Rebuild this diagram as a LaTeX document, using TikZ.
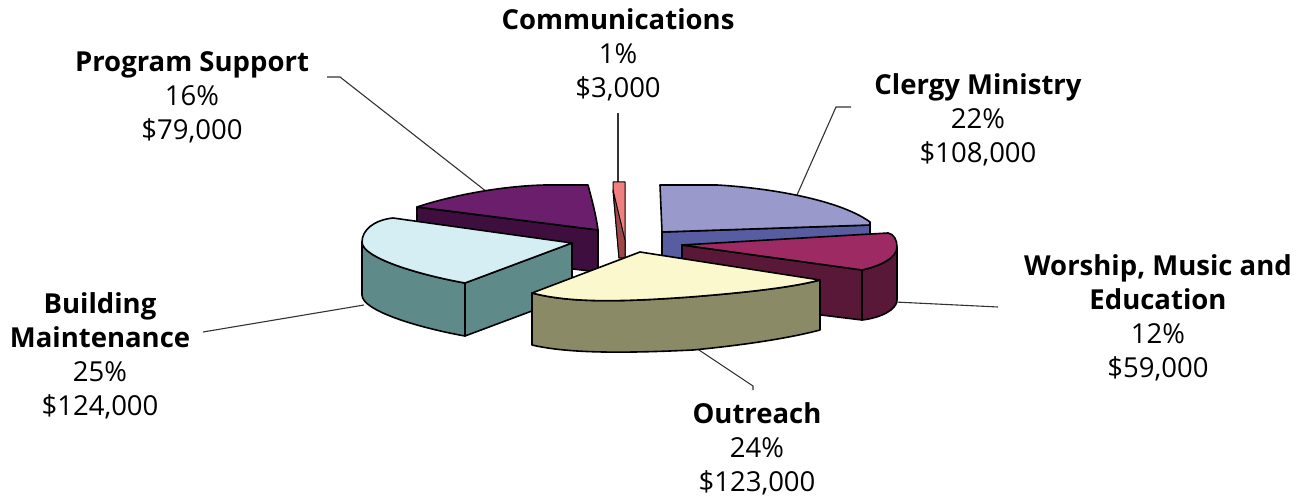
\documentclass[tikz,border=0pt]{standalone}
\usepackage{fontspec}
\setmainfont{Open Sans}
\definecolor{psTop}{RGB}{107,30,107}
\definecolor{psSide}{RGB}{62,14,62}
\definecolor{bmTop}{RGB}{212,238,244}
\definecolor{bmSide}{RGB}{95,138,138}
\definecolor{orTop}{RGB}{250,248,204}
\definecolor{orSide}{RGB}{138,138,102}
\definecolor{cmTop}{RGB}{153,153,204}
\definecolor{cmSide}{RGB}{88,92,160}
\definecolor{wmTop}{RGB}{158,42,100}
\definecolor{wmSide}{RGB}{90,24,56}
\definecolor{coTop}{RGB}{240,128,128}
\definecolor{coSide}{RGB}{160,72,72}
\begin{document}
\begin{tikzpicture}[x=1pt,y=-1pt,
  lbl/.style={align=center,font=\fontsize{27.5}{34}\selectfont,text=black,inner sep=0pt},
  lead/.style={draw=black!80,line width=1.1pt},
  rim/.style={draw=black,line width=1.6pt,line join=round}]
\useasboundingbox[fill=white] (0,0) rectangle (1302,497);

% labels
\node[lbl] (co) at (618,55) {\textbf{Communications}\\1\%\\\$3,000};
\node[lbl] (ps) at (192,97) {\textbf{Program Support}\\16\%\\\$79,000};
\node[lbl] (cm) at (978,120) {\textbf{Clergy Ministry}\\22\%\\\$108,000};
\node[lbl] (wm) at (1158,318) {\textbf{Worship, Music and}\\\textbf{Education}\\12\%\\\$59,000};
\node[lbl] (or) at (757,449) {\textbf{Outreach}\\24\%\\\$123,000};
\node[lbl] (bm) at (100,356) {\textbf{Building}\\\textbf{Maintenance}\\25\%\\\$124,000};

% leader line points
\coordinate (psA) at (327,77);
\coordinate (psB) at (340,77);
\coordinate (psC) at (487,192);
\coordinate (coA) at (618,113);
\coordinate (coB) at (618,184);
\coordinate (cmA) at (851,107);
\coordinate (cmB) at (836,107);
\coordinate (cmC) at (797,195);
\coordinate (wmA) at (998,307);
\coordinate (wmB) at (895,302);
\coordinate (orA) at (753,390);
\coordinate (orB) at (753,386);
\coordinate (orC) at (696,348);
\coordinate (bmA) at (203,332);
\coordinate (bmB) at (364,305);

\draw[lead] (psA) -- (psB) -- (psC);
\draw[lead] (coA) -- (coB);
\draw[lead] (cmA) -- (cmB) -- (cmC);
\draw[lead] (wmA) -- (wmB);
\draw[lead] (orA) -- (orB) -- (orC);
\draw[lead] (bmA) -- (bmB);

% Program Support
\filldraw[rim,fill=psSide] (417,207) -- (598,230) -- (598,272) -- (417,250) -- cycle;
\filldraw[rim,fill=psTop] (417,207) .. controls (450,196) and (500,186) .. (545,185) -- (588,185)
   .. controls (592,200) and (596,215) .. (598,230) -- cycle;

% Communications
\filldraw[rim,line width=1pt,fill=coTop] (613,182) -- (625,182) -- (625,258) -- (619,258) -- (613,190) -- cycle;
\filldraw[rim,line width=1pt,fill=coSide] (613,190) -- (625,240) -- (625,258) -- (619,258) -- cycle;

% Clergy Ministry
\filldraw[rim,fill=cmSide] (662,232) -- (870,225) -- (870,252) -- (662,259) -- cycle;
\filldraw[rim,fill=cmTop] (660,185) -- (717,185) .. controls (770,188) and (840,200) .. (870,222)
   -- (870,225) -- (662,232) -- cycle;

% Worship, Music and Education
\filldraw[rim,fill=wmSide] (682,245) -- (862,270) -- (862,320) -- (682,298) -- cycle;
\filldraw[rim,fill=wmSide] (862,270) .. controls (880,266) and (897,258) .. (897,247) -- (897,300)
   .. controls (897,310) and (880,318) .. (862,320) -- cycle;
\filldraw[rim,fill=wmTop] (682,245) -- (888,233) .. controls (894,234) and (897,240) .. (897,247)
   .. controls (897,258) and (880,266) .. (862,270) -- cycle;

% Building Maintenance
\filldraw[rim,fill=bmSide] (465,283) -- (572,243) -- (572,296) -- (465,336) -- cycle;
\filldraw[rim,fill=bmSide] (362,242) -- (362,295) .. controls (362,311) and (420,328) .. (465,336)
   -- (465,283) .. controls (420,275) and (362,258) .. (362,242) -- cycle;
\filldraw[rim,fill=bmTop] (572,243) -- (393,218) .. controls (374,220) and (362,230) .. (362,242)
   .. controls (362,258) and (420,275) .. (465,283) -- cycle;

% Outreach
\filldraw[rim,fill=orSide] (532,293) -- (532,345) .. controls (570,354) and (630,353) .. (693,350)
   .. controls (745,345) and (790,338) .. (820,330) -- (820,280)
   .. controls (790,288) and (740,293) .. (690,297) .. controls (620,302) and (570,303) .. (532,293) -- cycle;
\filldraw[rim,fill=orTop] (640,252) -- (532,293) .. controls (570,303) and (620,302) .. (690,297)
   .. controls (740,293) and (790,288) .. (820,280) -- cycle;
\end{tikzpicture}
\end{document}
